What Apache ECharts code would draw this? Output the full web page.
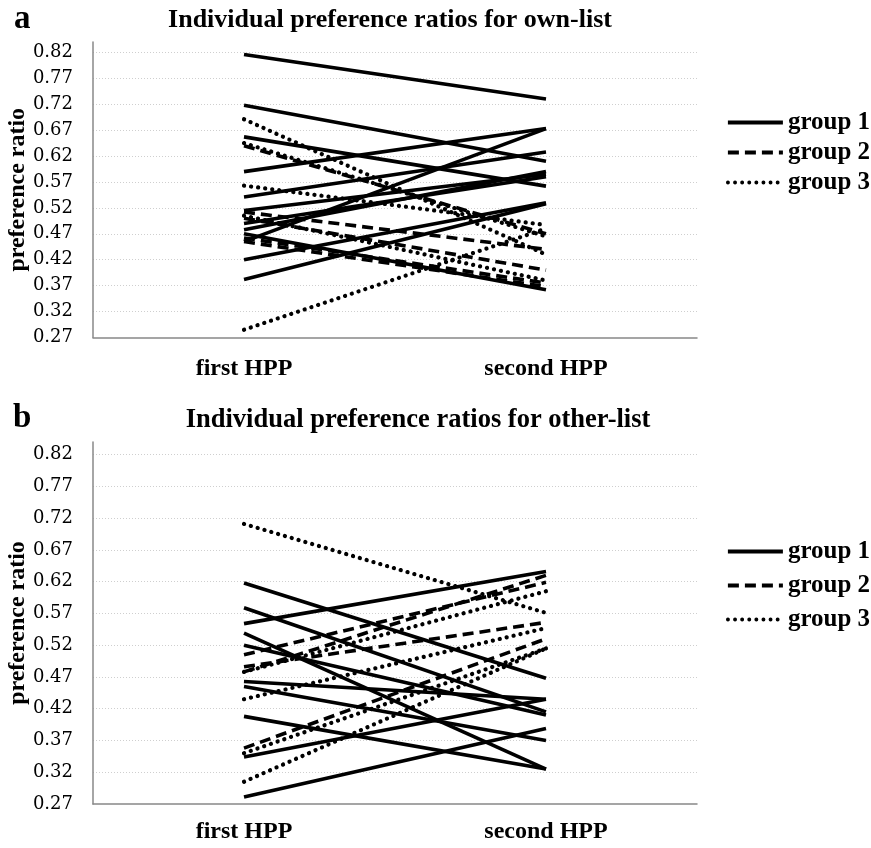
<!DOCTYPE html>
<html><head><meta charset="utf-8">
<script src="https://cdn.jsdelivr.net/npm/echarts@6/dist/echarts.min.js"></script>
<style>html,body{margin:0;padding:0;background:#fff}#c{width:871px;height:848px}</style>
</head><body><div id="c"></div>
<script>
const categories = ['first HPP', 'second HPP'];
const groupNames = ['group 1', 'group 2', 'group 3'];
// Panel a: own-list, [first HPP, second HPP] per subject
const ownGroup1 = [[0.816,0.730],[0.718,0.610],[0.657,0.562],[0.590,0.673],[0.541,0.628],[0.515,0.585],[0.490,0.580],[0.478,0.590],[0.455,0.673],[0.470,0.362],[0.420,0.530],[0.382,0.528]];
const ownGroup2 = [[0.640,0.470],[0.512,0.440],[0.500,0.400],[0.462,0.375],[0.455,0.368]];
const ownGroup3 = [[0.691,0.430],[0.645,0.465],[0.563,0.487],[0.505,0.380],[0.285,0.480]];
// Panel b: other-list
const otherGroup1 = [[0.618,0.468],[0.579,0.415],[0.554,0.636],[0.539,0.325],[0.520,0.410],[0.463,0.435],[0.455,0.370],[0.408,0.325],[0.344,0.435],[0.281,0.389]];
const otherGroup2 = [[0.505,0.619],[0.486,0.556],[0.478,0.630],[0.358,0.530]];
const otherGroup3 = [[0.711,0.571],[0.478,0.605],[0.435,0.547],[0.350,0.515],[0.305,0.515]];

const SERIF = '"Liberation Serif", "Times New Roman", serif';
const TICKFONT = '"DejaVu Serif", serif';
const lineTypes = ['solid', [11, 6], [0.1, 7]];
const chart = echarts.init(document.getElementById('c'), null, {renderer: 'canvas'});

function mkSeries(groups, axisIndex) {
  const out = [];
  groups.forEach((g, gi) => {
    g.forEach(pair => {
      out.push({
        name: groupNames[gi], type: 'line', xAxisIndex: axisIndex, yAxisIndex: axisIndex,
        data: pair, symbol: 'none', silent: true, color: '#000',
        lineStyle: {color: '#000', width: gi === 2 ? 4.2 : 3.6, type: lineTypes[gi], cap: gi === 2 ? 'round' : 'butt'}
      });
    });
  });
  return out;
}

const grids = [
  {left: 93, right: 174, top: 42, height: 295.5, containLabel: false, outerBoundsMode: 'none'},
  {left: 93, right: 174, top: 442, height: 362, containLabel: false, outerBoundsMode: 'none'}
];
function xAx(i, margin) {
  return {type: 'category', gridIndex: i, data: categories, boundaryGap: true,
    axisLine: {lineStyle: {color: '#888', width: 1.5}}, axisTick: {show: false},
    axisLabel: {fontFamily: SERIF, fontWeight: 'bold', fontSize: 24, color: '#000', margin: margin}};
}
function yAx(i) {
  return {type: 'value', gridIndex: i, min: 0.27, max: 0.84, interval: 0.05,
    name: 'preference ratio', nameLocation: 'middle', nameGap: 63, nameMoveOverlap: false,
    nameTextStyle: {fontFamily: SERIF, fontWeight: 'bold', fontSize: 24, color: '#000'},
    axisLine: {show: true, lineStyle: {color: '#888', width: 1.5}}, axisTick: {show: false},
    axisLabel: {fontFamily: TICKFONT, fontSize: 18, color: '#000', margin: 20, showMaxLabel: false,
      formatter: v => v > 0.83 ? '' : v.toFixed(2)},
    splitLine: {show: true, showMinLine: false, showMaxLine: false, lineStyle: {color: '#cfcfcf', type: [1, 2], width: 1}}};
}
function legend(top, gap) {
  return {data: groupNames, left: 726, top: top, padding: 0, orient: 'vertical', itemWidth: 55, itemHeight: 16, itemGap: gap,
    itemStyle: {opacity: 0}, lineStyle: {width: 3.8},
    textStyle: {fontFamily: SERIF, fontWeight: 'bold', fontSize: 25, color: '#000'}, selectedMode: false};
}

chart.setOption({
  animation: false,
  title: [
    {text: 'a', left: 9, top: -2, textStyle: {fontFamily: SERIF, fontWeight: 'bold', fontSize: 33, color: '#000'}},
    {text: 'Individual preference ratios for own-list', left: 385, textAlign: 'center', top: 2, textStyle: {fontFamily: SERIF, fontWeight: 'bold', fontSize: 26, color: '#000'}},
    {text: 'b', left: 8, top: 397, textStyle: {fontFamily: SERIF, fontWeight: 'bold', fontSize: 33, color: '#000'}},
    {text: 'Individual preference ratios for other-list', left: 413, textAlign: 'center', top: 402, textStyle: {fontFamily: SERIF, fontWeight: 'bold', fontSize: 26.5, color: '#000'}}
  ],
  legend: [legend(110, 5), legend(539, 9)],
  grid: grids,
  xAxis: [xAx(0, 19), xAx(1, 16)],
  yAxis: [yAx(0), yAx(1)],
  series: [].concat(mkSeries([ownGroup1, ownGroup2, ownGroup3], 0), mkSeries([otherGroup1, otherGroup2, otherGroup3], 1))
});
</script></body></html>
